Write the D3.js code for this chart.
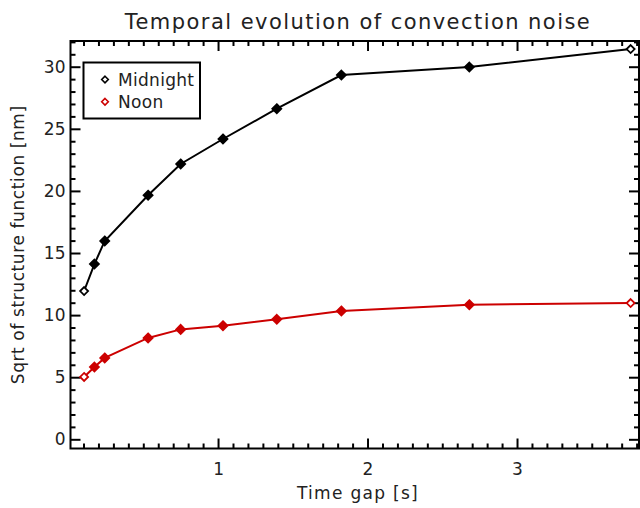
<!DOCTYPE html>
<html>
<head>
<meta charset="utf-8">
<script src="https://cdn.jsdelivr.net/npm/d3@7"></script>
<style>
  body { margin: 0; background: #fff; }
  text { font-family: "DejaVu Sans", sans-serif; fill: #222; }
</style>
</head>
<body>
<div id="chart"></div>
<script>
// data
const timeGap  = [0.104, 0.173, 0.242, 0.532, 0.750, 1.033, 1.393, 1.825, 2.681, 3.760];
const midnight = [11.94, 14.11, 15.97, 19.65, 22.17, 24.18, 26.62, 29.33, 29.97, 31.42];
const noon     = [5.02, 5.82, 6.55, 8.16, 8.85, 9.15, 9.66, 10.33, 10.84, 10.97];
const seriesNames  = ["Midnight", "Noon"];
const seriesColors = ["#000000", "#cc0000"];
const xMajor = [1, 2, 3];
const yMajor = [0, 5, 10, 15, 20, 25, 30];

const W = 640, H = 508;
const margin = {top: 41, right: 1, bottom: 59.5, left: 70.5};
const width = W - margin.left - margin.right,
      height = H - margin.top - margin.bottom;

const svg = d3.select("#chart").append("svg")
    .attr("width", W)
    .attr("height", H);

const g = svg.append("g")
    .attr("transform", `translate(${margin.left},${margin.top})`);

const x = d3.scaleLinear().domain([0.013, 3.816]).range([0, width]);
const y = d3.scaleLinear().domain([-0.74, 32.07]).range([height, 0]);

const xMinor = d3.range(1, 39).filter(i => i % 10 !== 0).map(i => i / 10);
const yMinor = d3.range(1, 33).filter(i => i % 5 !== 0);

function tickAxis(axis, vals, size, labels) {
    return axis.tickValues(vals).tickSize(-size).tickSizeOuter(0)
        .tickFormat(labels ? d3.format("d") : "");
}

// bottom axis
const xAxisG = g.append("g").attr("class", "axis").attr("transform", `translate(0,${height})`)
    .call(tickAxis(d3.axisBottom(x), xMajor, 10, true));
g.append("g").attr("class", "axis").attr("transform", `translate(0,${height})`)
    .call(tickAxis(d3.axisBottom(x), xMinor, 5, false));
// top axis
g.append("g").attr("class", "axis")
    .call(tickAxis(d3.axisTop(x), xMajor, 10, false));
g.append("g").attr("class", "axis")
    .call(tickAxis(d3.axisTop(x), xMinor, 5, false));
// left axis
const yAxisG = g.append("g").attr("class", "axis")
    .call(tickAxis(d3.axisLeft(y), yMajor, 10, true));
g.append("g").attr("class", "axis")
    .call(tickAxis(d3.axisLeft(y), yMinor, 5, false));
// right axis
g.append("g").attr("class", "axis").attr("transform", `translate(${width},0)`)
    .call(tickAxis(d3.axisRight(y), yMajor, 10, false));
g.append("g").attr("class", "axis").attr("transform", `translate(${width},0)`)
    .call(tickAxis(d3.axisRight(y), yMinor, 5, false));

g.selectAll(".axis .domain").remove();
g.selectAll(".axis line").attr("stroke", "#000").attr("stroke-width", 2);
g.selectAll(".axis text").attr("font-size", 17).attr("fill", "#222")
    .style("font-family", "DejaVu Sans, sans-serif");
xAxisG.selectAll("text").attr("y", 14).attr("dy", "0.71em");
yAxisG.selectAll("text").attr("x", -5);

g.append("rect")
    .attr("width", width).attr("height", height)
    .attr("fill", "none").attr("stroke", "#000").attr("stroke-width", 2);

// series
const diamond = r => `M0,${-r}L${r},0L0,${r}L${-r},0Z`;
const seriesData = [midnight, noon];
const line = d3.line().x((d, i) => x(timeGap[i])).y(d => y(d));

seriesData.forEach((vals, s) => {
    g.append("path")
        .datum(vals)
        .attr("d", line)
        .attr("fill", "none")
        .attr("stroke", seriesColors[s])
        .attr("stroke-width", 2);
    g.selectAll(null)
        .data(vals)
        .enter().append("path")
        .attr("transform", (d, i) => `translate(${x(timeGap[i])},${y(d)})`)
        .attr("d", (d, i) => (i === 0 || i === vals.length - 1) ? diamond(4) : diamond(4.5))
        .attr("fill", (d, i) => (i === 0 || i === vals.length - 1) ? "#fff" : seriesColors[s])
        .attr("stroke", seriesColors[s])
        .attr("stroke-width", 1.8);
});

// legend
const legend = svg.append("g").attr("transform", "translate(83.5,62.5)");
legend.append("rect")
    .attr("width", 116.5).attr("height", 56)
    .attr("fill", "#fff").attr("stroke", "#000").attr("stroke-width", 2);
seriesNames.forEach((name, s) => {
    const row = legend.append("g").attr("transform", `translate(21.5,${17 + s * 22.3})`);
    row.append("path").attr("d", diamond(3.3))
        .attr("fill", "#fff").attr("stroke", seriesColors[s]).attr("stroke-width", 1.6);
    row.append("text").attr("x", 13).attr("dy", "0.36em")
        .attr("font-size", 17).attr("letter-spacing", 0.3).text(name);
});

// titles
svg.append("text")
    .attr("x", 358).attr("y", 29)
    .attr("text-anchor", "middle")
    .attr("font-size", 21)
    .attr("letter-spacing", 1.45)
    .text("Temporal evolution of convection noise");

svg.append("text")
    .attr("x", 358).attr("y", 499)
    .attr("text-anchor", "middle")
    .attr("font-size", 17)
    .attr("letter-spacing", 1.3)
    .text("Time gap [s]");

svg.append("text")
    .attr("transform", `translate(24,${margin.top + height / 2}) rotate(-90)`)
    .attr("text-anchor", "middle")
    .attr("font-size", 17)
    .attr("letter-spacing", 0.6)
    .text("Sqrt of structure function [nm]");
</script>
</body>
</html>
